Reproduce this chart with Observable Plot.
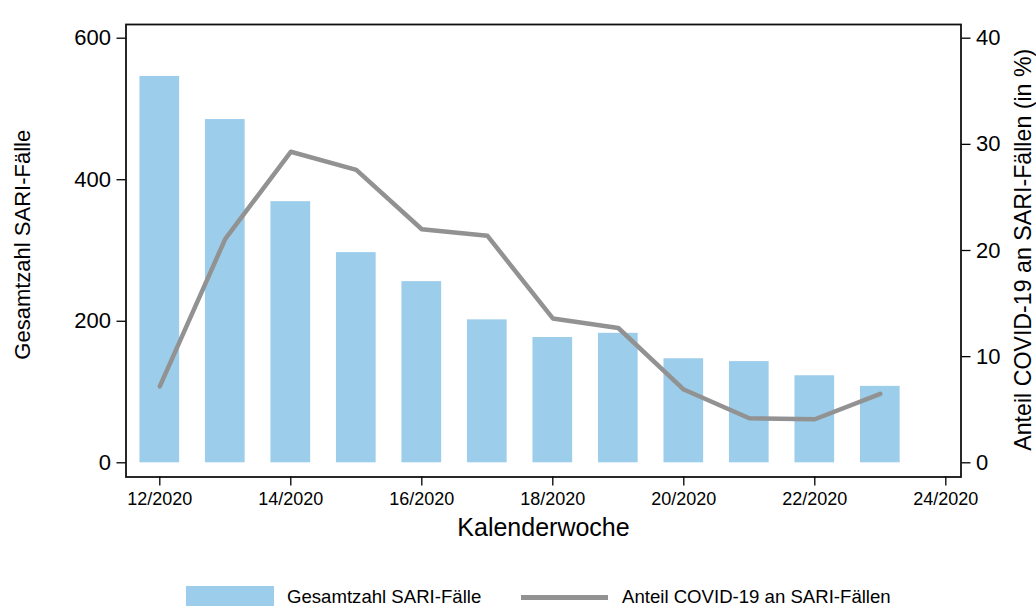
<!DOCTYPE html>
<html>
<head>
<meta charset="utf-8">
<script src="https://cdn.jsdelivr.net/npm/d3@7"></script>
<script src="https://cdn.jsdelivr.net/npm/@observablehq/plot@0.6"></script>
<style>
  html, body { margin: 0; padding: 0; background: #fff; }
  #wrap { position: relative; width: 1036px; height: 606px; font-family: "Liberation Sans", Arial, sans-serif; color: #000; }
  #chart svg { display: block; }
  .lg { position: absolute; font-size: 18.6px; line-height: 20px; white-space: nowrap; }
</style>
</head>
<body>
<div id="wrap">
  <div id="chart"></div>
  <div class="lg" style="left:186px;top:586px;width:88px;height:20px;background:#9ccdeb"></div>
  <div class="lg" style="left:287px;top:587px;">Gesamtzahl SARI-Fälle</div>
  <div class="lg" style="left:521px;top:595px;width:87px;height:5px;background:#929292"></div>
  <div class="lg" style="left:622px;top:587px;">Anteil COVID-19 an SARI-Fällen</div>
</div>
<script>
// Kalenderwoche 2020
const weeks = [12, 13, 14, 15, 16, 17, 18, 19, 20, 21, 22, 23];
// Gesamtzahl SARI-Fälle
const sariCases = [546, 485, 369, 297, 256, 202, 177, 183, 147, 143, 123, 108];
// Anteil COVID-19 an SARI-Fällen (in %)
const covidShare = [7.2, 21.1, 29.3, 27.6, 22.0, 21.4, 13.6, 12.7, 6.9, 4.2, 4.1, 6.5];

const xTicks = [12, 14, 16, 18, 20, 22, 24];
const leftTicks = [0, 200, 400, 600];
const rightTicks = [0, 10, 20, 30, 40];
const ratio = 15; // 600 Fälle <-> 40 %

const data = weeks.map((w, i) => ({week: w, cases: sariCases[i], share: covidShare[i]}));

const font = "Liberation Sans, Arial, sans-serif";

const chart = Plot.plot({
  width: 1036,
  height: 560,
  marginLeft: 125.5,
  marginRight: 75.5,
  marginTop: 24,
  marginBottom: 83.5,
  style: {fontFamily: font, color: "#000", background: "#fff"},
  x: {type: "linear", domain: [11.484, 24.232]},
  y: {type: "linear", domain: [-20.07, 619.36]},
  marks: [
    Plot.rectY(data, {
      x1: d => d.week - 0.303,
      x2: d => d.week + 0.303,
      y: "cases",
      fill: "#9ccdeb"
    }),
    Plot.line(data, {
      x: "week",
      y: d => d.share * ratio,
      stroke: "#929292",
      strokeWidth: 4.5,
      strokeLinecap: "round",
      strokeLinejoin: "round"
    }),
    Plot.frame({stroke: "#111", strokeWidth: 1.8}),
    Plot.axisX({
      ticks: xTicks,
      tickFormat: d => `${d}/2020`,
      tickSize: 9,
      tickPadding: 6,
      strokeWidth: 1.3,
      fontSize: 18,
      label: null
    }),
    Plot.axisY({
      anchor: "left",
      ticks: leftTicks,
      tickFormat: d => String(d),
      tickSize: 9,
      tickPadding: 6,
      strokeWidth: 1.3,
      fontSize: 22,
      label: null
    }),
    Plot.axisY({
      anchor: "right",
      ticks: rightTicks.map(t => t * ratio),
      tickFormat: d => String(Math.round(d / ratio)),
      tickSize: 9,
      tickPadding: 6,
      strokeWidth: 1.3,
      fontSize: 22,
      label: null
    }),
    Plot.text(["Gesamtzahl SARI-Fälle"], {
      text: d => d,
      frameAnchor: "left",
      textAnchor: "middle",
      lineAnchor: "middle",
      dx: -103,
      dy: -6,
      rotate: -90,
      fontSize: 22,
      fill: "#000"
    }),
    Plot.text(["Anteil COVID-19 an SARI-Fällen (in %)"], {
      text: d => d,
      frameAnchor: "right",
      textAnchor: "middle",
      lineAnchor: "middle",
      dx: 62.5,
      dy: -1,
      rotate: -90,
      fontSize: 23.2,
      fill: "#000"
    }),
    Plot.text(["Kalenderwoche"], {
      text: d => d,
      frameAnchor: "bottom",
      textAnchor: "middle",
      lineAnchor: "middle",
      dy: 50.5,
      fontSize: 25,
      fill: "#000"
    })
  ]
});

document.getElementById("chart").appendChild(chart);
</script>
</body>
</html>
